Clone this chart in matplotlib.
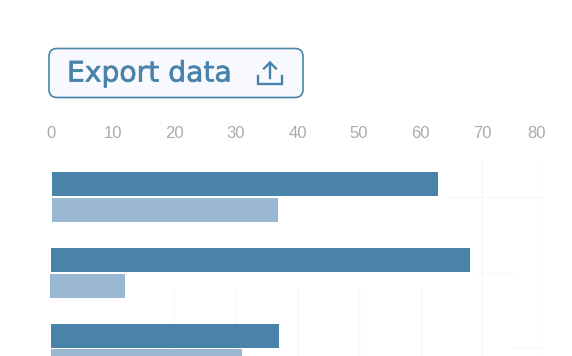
import matplotlib
matplotlib.use('Agg')
import matplotlib.pyplot as plt
import matplotlib.patheffects as pe
from matplotlib.patches import FancyBboxPatch
from matplotlib.transforms import ScaledTranslation

# Datos
grupos = [0, 1, 2]
serie_a = [62.7, 68, 37]
serie_b = [36.8, 12.2, 31]
inicio_a = [0.1, 0, 0]
inicio_b = [0.1, -0.2, 0]
ticks_x = [0, 10, 20, 30, 40, 50, 60, 70, 80]

W, H = 572, 356
AZUL = '#4A83A9'
CLARO = '#9AB8D1'
GRID = '#F7F7FC'

fig = plt.figure(figsize=(W / 100, H / 100), dpi=100, facecolor='white')

# Ejes principales (recortados abajo, como en el original)
ax = fig.add_axes([51 / W, 0, (544 - 51) / W, (356 - 158) / H])
ax.set_xlim(0, 80)
ax.set_ylim(2.1, -0.515)
alto = 0.317
ax.barh([g - 0.17 for g in grupos], serie_a, left=inicio_a, height=alto, color=AZUL, zorder=3, clip_on=False)
ax.barh([g + 0.17 for g in grupos], serie_b, left=inicio_b, height=alto, color=CLARO, zorder=3, clip_on=False)

# Rejilla muy tenue, solo visible a trozos
ax.vlines([70, 80], -0.5, 2.1, color=GRID, lw=1, zorder=1)
ax.vlines([20, 30, 40, 50, 60], 1.2, 2.1, color=GRID, lw=1, zorder=1)
ax.hlines(0, 64, 80, color=GRID, lw=1, zorder=1)
ax.hlines(1, 69, 75, color=GRID, lw=1, zorder=1)
ax.hlines(2, 75, 80, color=GRID, lw=1, zorder=1)

ax.xaxis.tick_top()
ax.set_xticks(ticks_x)
ax.set_yticks([])
ax.tick_params(axis='x', length=0, pad=12.3, labelcolor='#ABABAB', labelsize=12)
for lab in ax.get_xticklabels():
    lab.set_family('Liberation Sans')
# la etiqueta 80 esta algo desplazada a la izquierda en el original
ult = ax.get_xticklabels()[-1]
ult.set_transform(ult.get_transform() + ScaledTranslation(-7 / 100, 0, fig.dpi_scale_trans))
for s in ax.spines.values():
    s.set_visible(False)

# Boton en coordenadas de pixel
top = fig.add_axes([0, 0, 1, 1], facecolor='none')
top.set_xlim(0, W)
top.set_ylim(H, 0)
top.axis('off')
boton = FancyBboxPatch((57, 56.5), 238, 33, boxstyle='round,pad=8,rounding_size=8',
                       fc='#F8F9FE', ec='#4A84A8', lw=1.2)
top.add_patch(boton)
top.text(67, 73.5, 'Export data', family='DejaVu Sans', fontsize=20.3,
         color=AZUL, ha='left', va='center',
         path_effects=[pe.withStroke(linewidth=0.5, foreground=AZUL)])

# Icono de exportar
top.plot([258, 258, 282, 282], [76, 84, 84, 76], color=AZUL, lw=1.7, solid_joinstyle='miter')
top.plot([270, 270], [78, 63], color=AZUL, lw=1.7)
top.plot([264, 270, 276], [68.5, 62.5, 68.5], color=AZUL, lw=1.7, solid_joinstyle='miter')

fig.savefig('out.png', dpi=100)
